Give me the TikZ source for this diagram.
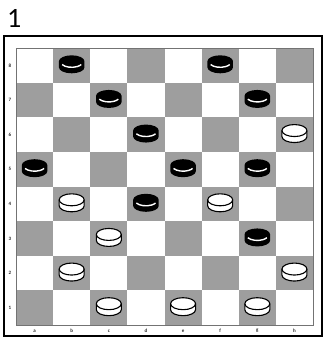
\documentclass[tikz,border=0pt]{standalone}
\usepackage{fontspec}
\setmainfont{Carlito}
\newcommand{\blackman}[2]{%
  \begin{scope}[shift={({#1},{#2})}]
    \fill[black] (-12.8,-3) -- (-12.8,3) arc[start angle=180,end angle=0,x radius=12.8,y radius=6]
      -- (12.8,-3) arc[start angle=0,end angle=-180,x radius=12.8,y radius=6] -- cycle;
    \draw[white,line width=1.4] ([shift={(0,-2.5)}]150:11 and 5.5) arc[start angle=150,end angle=30,x radius=11,y radius=5.5];
  \end{scope}}
\newcommand{\whiteman}[2]{%
  \begin{scope}[shift={({#1},{#2})}]
    \filldraw[fill=white,draw=black,line width=1.1] (-12.5,-3) -- (-12.5,3) arc[start angle=180,end angle=0,x radius=12.5,y radius=6]
      -- (12.5,-3) arc[start angle=0,end angle=-180,x radius=12.5,y radius=6] -- cycle;
    \draw[black,line width=1.1] (-12.5,-3) arc[start angle=180,end angle=0,x radius=12.5,y radius=6];
  \end{scope}}
\begin{document}
\begin{tikzpicture}[x=1pt,y=-1pt,
  darksq/.style={fill=black!38},
  coordlabel/.style={font=\fontsize{5}{5}\selectfont\bfseries, text=black!85, inner sep=0pt}]
\useasboundingbox (0,0) rectangle (323,339);
\node[anchor=base west, inner sep=0pt, font=\fontsize{28}{28}\selectfont] (num) at (7,28) {1};
\draw[line width=2] (4,36) rectangle (322,336);
\foreach \c in {0,...,7} {
  \foreach \r in {0,...,7} {
    \pgfmathtruncatemacro{\sqparity}{mod(\c+\r,2)}
    \ifnum\sqparity=1
      \fill[darksq] ({16+37.125*\c},{48+34.625*\r}) rectangle ({16+37.125*(\c+1)},{48+34.625*(\r+1)});
    \fi
  }
}
\draw[black!55, line width=0.8] (16,48) rectangle (313,325);
\foreach \l [count=\i from 0] in {8,7,6,5,4,3,2,1}
  \node[coordlabel] (rank\l) at (10,{48+34.625*(\i+0.5)}) {\l};
\foreach \l [count=\i from 0] in {a,b,c,d,e,f,g,h}
  \node[coordlabel] (file\l) at ({16+37.125*(\i+0.5)},331) {\l};
\foreach \c/\r in {1/0,5/0,2/1,6/1,3/2,0/3,4/3,6/3,3/4,6/5}
  \blackman{16+37.125*(\c+0.5)}{47+34.625*(\r+0.5)};
\foreach \c/\r in {7/2,1/4,5/4,2/5,1/6,7/6,2/7,4/7,6/7}
  \whiteman{16+37.125*(\c+0.5)}{47+34.625*(\r+0.5)};
\end{tikzpicture}
\end{document}
